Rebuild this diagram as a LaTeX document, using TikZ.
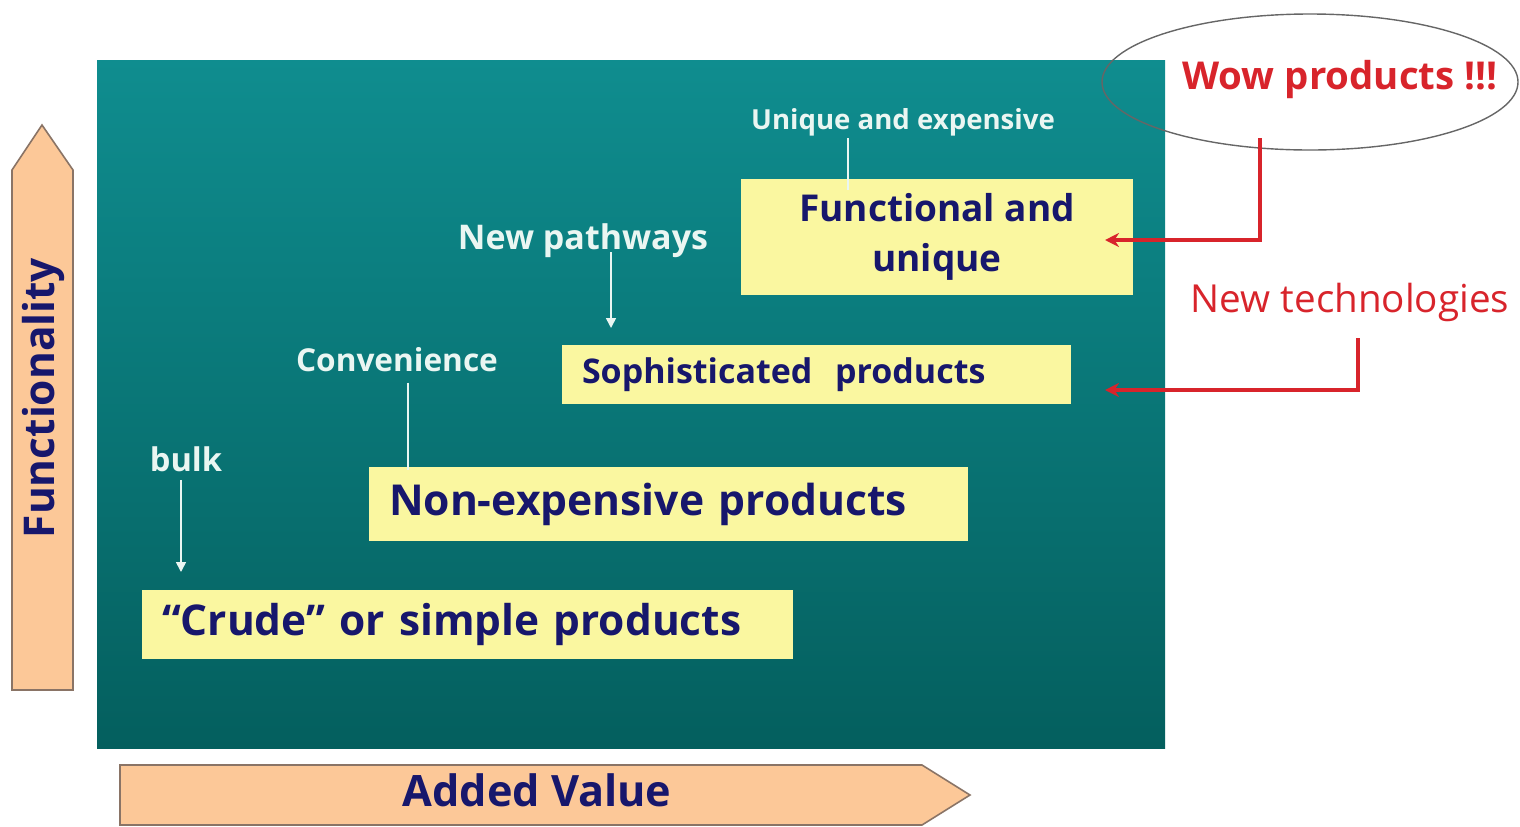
\documentclass[tikz,border=0pt]{standalone}
\usepackage{fontspec}
\setmainfont{Open Sans}
\usetikzlibrary{arrows.meta,shapes.geometric}
\definecolor{tealtop}{HTML}{0F8D8F}
\definecolor{tealbot}{HTML}{045F5E}
\definecolor{peach}{HTML}{FCC898}
\definecolor{peachline}{HTML}{8A7466}
\definecolor{boxy}{HTML}{FAF7A0}
\definecolor{navy}{HTML}{17176C}
\definecolor{redt}{HTML}{D8242B}
\definecolor{whitish}{HTML}{EAF6F2}
\tikzset{
  prodbox/.style={fill=boxy, draw=none, text=navy, inner xsep=10pt, align=left},
  wlabel/.style={text=whitish, inner sep=1pt},
  warrow/.style={draw=whitish, line width=0.8pt, -{Triangle[width=5pt,length=5pt]}},
  wline/.style={draw=whitish, line width=0.8pt},
  rarrow/.style={draw=redt, line width=1.6pt, -{Stealth[width=7pt,length=7pt]}},
  axisarrow/.style={fill=peach, draw=peachline, line width=0.8pt},
  axislabel/.style={text=navy},
}
\begin{document}
\begin{tikzpicture}[x=0.5pt,y=-0.5pt]
\useasboundingbox (0,0) rectangle (1520,826);
% main panel
\shade[top color=tealtop, bottom color=tealbot] (97,60) rectangle (1165,748);
% axis arrows
\draw[axisarrow] (12,690) -- (12,170) -- (42,125) -- (73,170) -- (73,690) -- cycle;
\node[axislabel, rotate=90, font=\bfseries\fontsize{21.2}{24}\selectfont] (func) at (43,398) {Functionality};
\draw[axisarrow] (120,765) -- (922,765) -- (970,795) -- (922,825) -- (120,825) -- cycle;
\node[axislabel, font=\bfseries\fontsize{21.6}{24}\selectfont] (added) at (537,790) {Added Value};
% product boxes
\node[prodbox, align=center, minimum width=196pt, minimum height=58pt, font=\bfseries\fontsize{18.5}{25}\selectfont] (fu) at (937,237) {Functional and\\unique};
\node[prodbox, text width=234.5pt, minimum height=29.5pt, font=\bfseries\fontsize{17}{20}\selectfont] (soph) at (816.5,374.5) {Sophisticated\ \ products};
\node[prodbox, text width=279.5pt, minimum height=37pt, font=\bfseries\fontsize{21.3}{24}\selectfont] (non) at (668.5,504) {Non-expensive products};
\node[prodbox, text width=305.5pt, minimum height=34.5pt, font=\bfseries\fontsize{21.2}{24}\selectfont] (crude) at (467.5,624.5) {“Crude” or simple products};
% white labels
\node[wlabel, font=\bfseries\fontsize{13.8}{16}\selectfont] (uniq) at (903,122) {Unique and expensive};
\node[wlabel, font=\bfseries\fontsize{17}{20}\selectfont] (newp) at (583,241) {New pathways};
\node[wlabel, font=\bfseries\fontsize{15.8}{20}\selectfont] (conv) at (397,360) {Convenience};
\node[wlabel, font=\bfseries\fontsize{16.3}{20}\selectfont] (bulk) at (186,459) {bulk};
% white connectors
\coordinate (uniqe) at (848,190);
\coordinate (newpe) at (611,328);
\coordinate (conve) at (408,470);
\coordinate (bulke) at (181,572);
\draw[wline] (uniq.south -| uniqe) -- (uniqe);
\draw[warrow] (newp.south -| newpe) ++(0,-8) -- (newpe);
\draw[wline] (conv.south -| conve) ++(0,8) -- (conve);
\draw[warrow] (bulk.south -| bulke) ++(0,6) -- (bulke);
% wow ellipse and red labels
\node[draw=gray!80!black, line width=0.7pt, ellipse, minimum width=208pt, minimum height=68pt] (ell) at (1310,82) {};
\node[text=redt, font=\bfseries\fontsize{19.2}{22}\selectfont] (wow) at (1340,80) {Wow products !!!};
\node[text=redt, font=\fontsize{19.3}{22}\selectfont] (newt) at (1350,302) {New technologies};
% red connectors
\coordinate (wows) at (1260,138);
\coordinate (fue) at (1105,240);
\coordinate (newts) at (1358,338);
\coordinate (sophe) at (1105,390);
\draw[rarrow] (wows) |- (fue);
\draw[rarrow] (newts) |- (sophe);
\end{tikzpicture}
\end{document}
